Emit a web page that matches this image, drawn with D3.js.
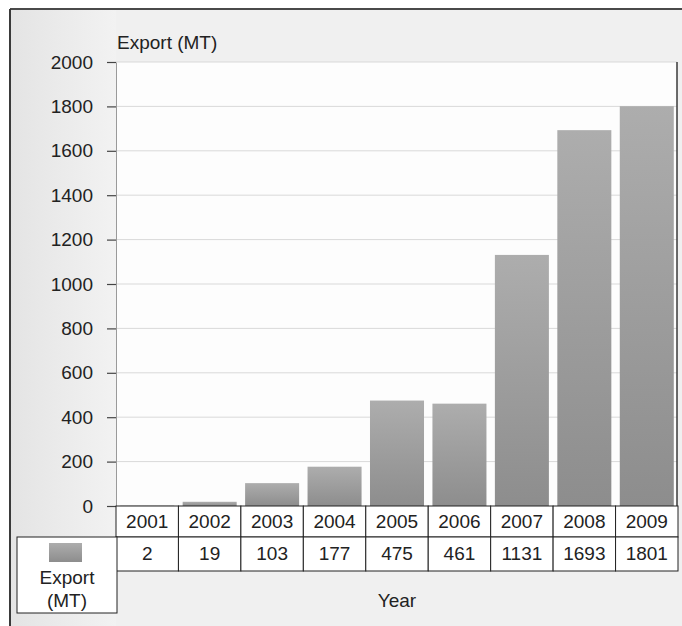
<!DOCTYPE html>
<html>
<head>
<meta charset="utf-8">
<script src="https://cdn.jsdelivr.net/npm/d3@7"></script>
<style>
  html, body { margin: 0; padding: 0; background: #ffffff; }
  svg { display: block; font-family: "Liberation Sans", Arial, sans-serif; }
</style>
</head>
<body>
<svg id="chart" width="682" height="626"></svg>
<script>
// Annual export volumes, metric tonnes
const years = ["2001", "2002", "2003", "2004", "2005", "2006", "2007", "2008", "2009"];
const exportMT = [2, 19, 103, 177, 475, 461, 1131, 1693, 1801];
const yTicks = [0, 200, 400, 600, 800, 1000, 1200, 1400, 1600, 1800, 2000];
const seriesName = ["Export", "(MT)"];
const axisTitle = "Export (MT)";
const xTitle = "Year";

const FS = 19;
const svg = d3.select("#chart");
const plot = { left: 116, right: 677, top: 62, bottom: 506 };
const tableRight = 678;
const rowH = [31, 34];

const y = d3.scaleLinear().domain([0, 2000]).range([plot.bottom, plot.top]);
const col = d3.scaleBand().domain(years).range([plot.left, tableRight]).padding(0);
const x = d3.scaleBand().domain(years).range([plot.left, tableRight])
  .paddingInner(0.135).paddingOuter(0.0675);

const defs = svg.append("defs");
const grad = defs.append("linearGradient").attr("id", "barFill")
  .attr("x1", 0).attr("y1", 0).attr("x2", 0).attr("y2", 1);
grad.append("stop").attr("offset", "0%").attr("stop-color", "#adadad");
grad.append("stop").attr("offset", "100%").attr("stop-color", "#8d8d8d");

const side = defs.append("linearGradient").attr("id", "sideFill")
  .attr("x1", 0).attr("y1", 0).attr("x2", 1).attr("y2", 0);
side.append("stop").attr("offset", "0%").attr("stop-color", "#e4e4e4");
side.append("stop").attr("offset", "100%").attr("stop-color", "#f2f2f2");

// Page background inside the frame
svg.append("rect").attr("x", 10).attr("y", 9).attr("width", 672).attr("height", 617)
  .attr("fill", "#f0f0f0");
svg.append("rect").attr("x", 10).attr("y", 9).attr("width", 106).attr("height", 617)
  .attr("fill", "url(#sideFill)");

// Plot area
svg.append("rect").attr("x", plot.left).attr("y", plot.top)
  .attr("width", plot.right - plot.left).attr("height", plot.bottom - plot.top)
  .attr("fill", "#fdfdfd");

// Gridlines
svg.append("g").selectAll("line").data(yTicks.filter(d => d > 0)).join("line")
  .attr("x1", plot.left).attr("x2", plot.right)
  .attr("y1", d => y(d)).attr("y2", d => y(d))
  .attr("stroke", "#d9d9d9").attr("stroke-width", 1);

// Bars
svg.append("g").selectAll("rect").data(years).join("rect")
  .attr("x", d => x(d))
  .attr("width", x.bandwidth())
  .attr("y", (d, i) => y(exportMT[i]))
  .attr("height", (d, i) => y(0) - y(exportMT[i]))
  .attr("fill", "url(#barFill)");

// Y axis
const yAxis = svg.append("g").attr("transform", `translate(${plot.left},0)`)
  .call(d3.axisLeft(y).tickValues(yTicks).tickFormat(d3.format("d"))
    .tickSize(9).tickSizeOuter(0).tickPadding(14));
yAxis.select(".domain").attr("stroke", "#9a9a9a").attr("stroke-width", 1);
yAxis.selectAll(".tick line").attr("stroke", "#444").attr("stroke-width", 1.2);
yAxis.selectAll(".tick text").attr("fill", "#222").attr("font-size", FS)
  .attr("font-family", "'Liberation Sans', Arial, sans-serif");

// Right border of the plot
svg.append("line").attr("x1", plot.right).attr("x2", plot.right)
  .attr("y1", plot.top).attr("y2", plot.bottom)
  .attr("stroke", "#3a3a3a").attr("stroke-width", 1.5);

// Axis title
svg.append("text").attr("x", 117).attr("y", 49).attr("font-size", FS).attr("fill", "#222")
  .text(axisTitle);

// Data table
const t0 = plot.bottom, t1 = t0 + rowH[0], t2 = t1 + rowH[1];
const table = svg.append("g").attr("stroke", "#222").attr("stroke-width", 1);

// Year row
table.selectAll("rect.year").data(years).join("rect").attr("class", "year")
  .attr("x", d => col(d)).attr("y", t0).attr("width", col.bandwidth()).attr("height", rowH[0])
  .attr("fill", "#ffffff");
// Value row
table.selectAll("rect.val").data(years).join("rect").attr("class", "val")
  .attr("x", d => col(d)).attr("y", t1).attr("width", col.bandwidth()).attr("height", rowH[1])
  .attr("fill", "#ffffff");
// Legend cell
table.append("rect").attr("x", 17).attr("y", t1).attr("width", plot.left - 17 + 1).attr("height", 76)
  .attr("fill", "#ffffff");

svg.append("rect").attr("x", 49).attr("y", t1 + 6).attr("width", 33).attr("height", 19)
  .attr("fill", "url(#barFill)");
svg.append("g").selectAll("text").data(seriesName).join("text")
  .attr("x", 67).attr("y", (d, i) => t1 + 47 + i * 23)
  .attr("text-anchor", "middle").attr("font-size", FS).attr("fill", "#222")
  .text(d => d);

svg.append("g").selectAll("text").data(years).join("text")
  .attr("x", d => col(d) + col.bandwidth() / 2).attr("y", t0 + 22)
  .attr("text-anchor", "middle").attr("font-size", FS).attr("fill", "#222")
  .text(d => d);
svg.append("g").selectAll("text").data(years).join("text")
  .attr("x", d => col(d) + col.bandwidth() / 2).attr("y", t1 + 23)
  .attr("text-anchor", "middle").attr("font-size", FS).attr("fill", "#222")
  .text((d, i) => exportMT[i]);

// X title
svg.append("text").attr("x", (plot.left + tableRight) / 2).attr("y", 607)
  .attr("text-anchor", "middle").attr("font-size", FS).attr("fill", "#222")
  .text(xTitle);

// Outer frame (top and left edges)
svg.append("line").attr("x1", 10).attr("x2", 682).attr("y1", 9).attr("y2", 9)
  .attr("stroke", "#4a4a4a").attr("stroke-width", 2);
svg.append("line").attr("x1", 10).attr("x2", 10).attr("y1", 9).attr("y2", 626)
  .attr("stroke", "#3a3a3a").attr("stroke-width", 2);
</script>
</body>
</html>
